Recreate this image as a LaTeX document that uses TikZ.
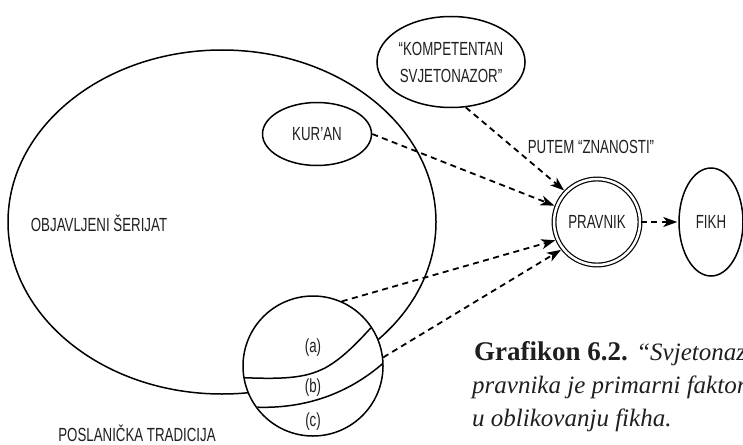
\documentclass[tikz,border=0pt]{standalone}
\usepackage{fontspec}
\usetikzlibrary{shapes.geometric,arrows.meta}
\newfontfamily\condfont[FakeStretch=0.7]{Liberation Sans}
\newfontfamily\capfont{Liberation Serif}
\begin{document}
\begin{tikzpicture}[x=1pt,y=-1pt,
  shapeline/.style={draw=black,line width=1.5pt},
  lbl/.style={font=\condfont\fontsize{19}{27}\selectfont, text=black!88},
  elli/.style={ellipse, shapeline, inner sep=0pt, lbl},
  darrow/.style={draw=black, line width=1.8pt, dash pattern=on 6pt off 4.5pt,
    -{Stealth[length=14pt,width=10pt,inset=4pt]}},
  capline/.style={anchor=base west, inner sep=0pt, font=\capfont\fontsize{25}{33}\selectfont, text=black!88}
]
\useasboundingbox (0,0) rectangle (743,444);
\clip (0,0) rectangle (743,444);
% big ellipse
\node[elli, minimum width=428pt, minimum height=344pt] (sharia) at (222,222) {};
\node[lbl] (sharialbl) at (99,223) {OBJAVLJENI ŠERIJAT};
% small circle
\node[circle, shapeline, fill=white, minimum size=140pt, inner sep=0pt] (tradition) at (313,366) {};
\begin{scope}
  \clip (tradition.center) circle (69pt);
  \draw[line width=1.5pt] (230,377) .. controls (285,380) and (305,378) .. (325,368)
        .. controls (345,357) and (362,338) .. (385,312);
  \draw[line width=1.5pt] (240,406) .. controls (295,412) and (350,398) .. (395,352);
\end{scope}
\node[lbl] (la) at (313,348) {(a)};
\node[lbl] (lb) at (313,388) {(b)};
\node[lbl] (lc) at (313,422) {(c)};
% other nodes
\node[elli, minimum width=109pt, minimum height=63pt] (kuran) at (317,134) {KUR’AN};
\node[elli, minimum width=146pt, minimum height=91pt, align=center] (komp) at (451,62) {“KOMPETENTAN\\SVJETONAZOR”};
\node[circle, draw=black, double, double distance=2.5pt, line width=1.2pt, minimum size=86pt, inner sep=0pt, lbl] (pravnik) at (597,222) {PRAVNIK};
\node[elli, minimum width=64pt, minimum height=108pt] (fikh) at (711,222) {FIKH};
\node[lbl] (putem) at (591,147) {PUTEM “ZNANOSTI”};
\node[lbl] (poslanicka) at (137,433) {POSLANIČKA TRADICIJA};
% arrows
\draw[darrow, shorten >=2pt] (kuran.east) -- (pravnik.159);
\draw[darrow, shorten >=2pt] (komp.-72) -- (pravnik.136);
\draw[darrow, shorten >=2pt] (tradition.66) -- (pravnik.204);
\draw[darrow, shorten >=2pt] (tradition.7) -- (pravnik.218);
\draw[darrow, shorten >=1pt] (pravnik.east) -- (fikh.west);
% caption
\node[capline] (cap1) at (474,360) {{\fontsize{27}{33}\selectfont\textbf{Grafikon 6.2.}} \textit{“Svjetonazor”}};
\node[capline] (cap2) at (472,393) {\textit{pravnika je primarni faktor}};
\node[capline] (cap3) at (472,426) {\textit{u oblikovanju fikha.}};
\end{tikzpicture}
\end{document}
